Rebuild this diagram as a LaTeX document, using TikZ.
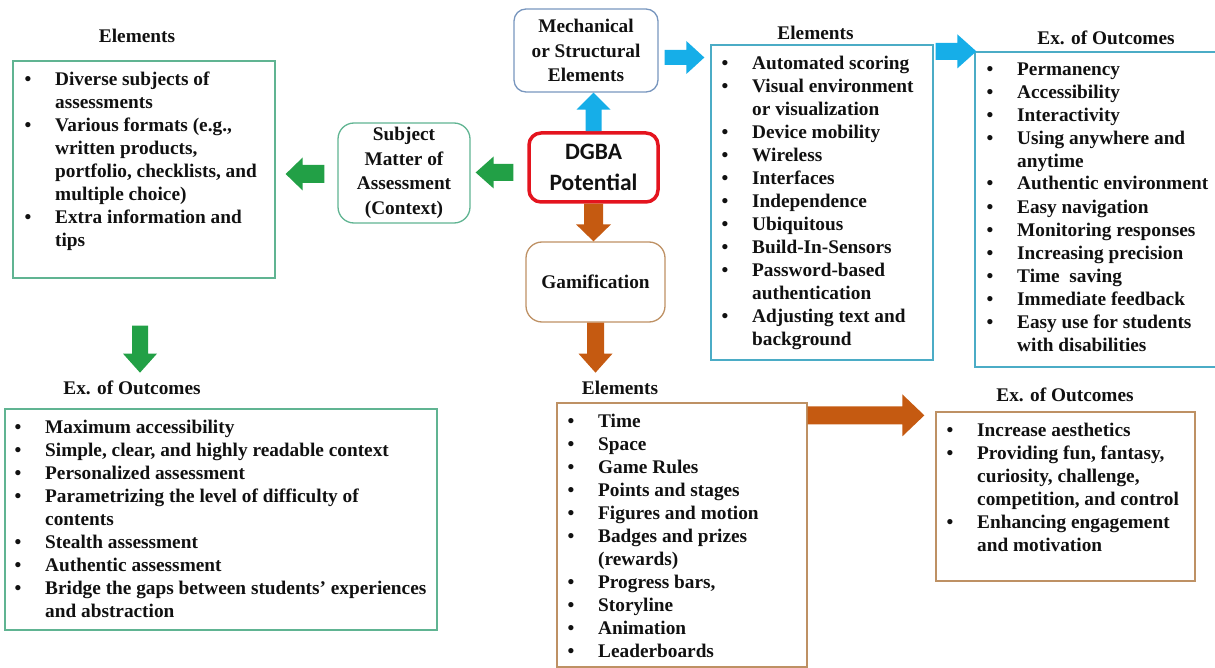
\documentclass[tikz,border=0pt]{standalone}
\usepackage{fontspec}
\setmainfont{Liberation Serif}
\newfontfamily\calib{Carlito}
\usetikzlibrary{calc}
\definecolor{agreen}{RGB}{34,160,70}
\definecolor{ablue}{RGB}{22,174,232}
\definecolor{abrown}{RGB}{197,90,17}
\definecolor{gline}{RGB}{96,180,146}
\definecolor{bline}{RGB}{75,172,198}
\definecolor{mline}{RGB}{120,150,190}
\definecolor{tline}{RGB}{190,145,100}
\definecolor{rline}{RGB}{228,20,30}
\definecolor{txt}{RGB}{17,17,17}
\newcommand\bu{\makebox[30.5pt][l]{•}}
\newcommand\ind{\makebox[30.5pt]{}}
\newcommand\barrow[6]{%
 \path ($(#2)!#5!(#1)$) coordinate (bah);
 \fill[#6] ($(#1)!#3!90:(#2)$) -- ($(bah)!#3!90:(#2)$) -- ($(bah)!#4!90:(#2)$) -- (#2) -- ($(bah)!#4!-90:(#2)$) -- ($(bah)!#3!-90:(#2)$) -- ($(#1)!#3!-90:(#2)$) -- cycle;}
\tikzset{
 box/.style={draw, line width=1.3pt, inner sep=0pt},
 rbox/.style={box, rounded corners=#1, align=center, text=txt,
   font=\fontsize{19.3}{24.5}\selectfont\bfseries},
 listtxt/.style={inner sep=0pt, align=left, anchor=base west, text=txt,
   font=\fontsize{19.3}{23}\selectfont\bfseries},
 title/.style={inner sep=0pt, anchor=base, text=txt,
   font=\fontsize{19.3}{23}\selectfont\bfseries},
}
\begin{document}
\begin{tikzpicture}[x=1pt,y=-1pt]
\useasboundingbox (0,0) rectangle (1215,668);
\clip (0,0) rectangle (1215,668);
% boxes
\node[box, draw=gline, minimum width=262pt, minimum height=217pt] (lelem) at (144,169.5) {};
\node[box, draw=gline, minimum width=432pt, minimum height=221pt] (loutc) at (221,519.5) {};
\node[box, draw=bline, minimum width=222pt, minimum height=315pt] (melem) at (822,202.5) {};
\node[box, draw=bline, minimum width=247pt, minimum height=315pt] (moutc) at (1098.5,209.5) {};
\node[box, draw=tline, minimum width=250pt, minimum height=264pt] (gelem) at (682,535) {};
\node[box, draw=tline, minimum width=259pt, minimum height=169pt] (goutc) at (1065.5,496.5) {};
% rounded boxes
\node[rbox=12pt, draw=mline, minimum width=144pt, minimum height=83pt] (mech) at (586,50.5) {Mechanical\\or Structural\\Elements};
\node[rbox=16pt, draw=gline, minimum width=132pt, minimum height=100pt] (subj) at (404,173) {Subject\\Matter of\\Assessment\\(Context)};
\node[rbox=16pt, draw=tline, minimum width=139pt, minimum height=80pt] (gam) at (595.5,282) {Gamification};
\node[rbox=12pt, draw=rline, line width=3.5pt, minimum width=129pt, minimum height=69pt,
  font=\calib\fontsize{23.5}{31}\selectfont\bfseries] (dgba) at (593.5,167.5) {DGBA\\Potential};
% titles
\node[title] (t1) at (137,43) {Elements};
\node[title] (t2) at (815.5,40) {Elements};
\node[title] (t3) at (1106,44.5) {Ex. of Outcomes};
\node[title] (t4) at (132,394) {Ex. of Outcomes};
\node[title] (t5) at (620,394) {Elements};
\node[title] (t6) at (1065,401) {Ex. of Outcomes};
% lists (anchored at the baseline of their last line)
\node[listtxt] (l1) at (24.5,247) {\bu Diverse subjects of\\ \ind assessments\\ \bu Various formats (e.g.,\\ \ind written products,\\ \ind portfolio, checklists, and\\ \ind multiple choice)\\ \bu Extra information and\\ \ind tips};
\node[listtxt] (l2) at (721.5,345) {\bu Automated scoring\\ \bu Visual environment\\ \ind or visualization\\ \bu Device mobility\\ \bu Wireless\\ \bu Interfaces\\ \bu Independence\\ \bu Ubiquitous\\ \bu Build-In-Sensors\\ \bu Password-based\\ \ind authentication\\ \bu Adjusting text and\\ \ind background};
\node[listtxt] (l3) at (986.5,351) {\bu Permanency\\ \bu Accessibility\\ \bu Interactivity\\ \bu Using anywhere and\\ \ind anytime\\ \bu Authentic environment\\ \bu Easy navigation\\ \bu Monitoring responses\\ \bu Increasing precision\\ \bu Time\ \ saving\\ \bu Immediate feedback\\ \bu Easy use for students\\ \ind with disabilities};
\node[listtxt] (l4) at (14.5,617) {\bu Maximum accessibility\\ \bu Simple, clear, and highly readable context\\ \bu Personalized assessment\\ \bu Parametrizing the level of difficulty of\\ \ind contents\\ \bu Stealth assessment\\ \bu Authentic assessment\\ \bu Bridge the gaps between students’ experiences\\ \ind and abstraction};
\node[listtxt] (l5) at (567.5,657) {\bu Time\\ \bu Space\\ \bu Game Rules\\ \bu Points and stages\\ \bu Figures and motion\\ \bu Badges and prizes\\ \ind (rewards)\\ \bu Progress bars,\\ \bu Storyline\\ \bu Animation\\ \bu Leaderboards};
\node[listtxt] (l6) at (946.5,551) {\bu Increase aesthetics\\ \bu Providing fun, fantasy,\\ \ind curiosity, challenge,\\ \ind competition, and control\\ \bu Enhancing engagement\\ \ind and motivation};
% arrow end points
\coordinate (b1s) at (dgba.north);
\coordinate (b1e) at (dgba.north |- mech.south);
\coordinate (b2s) at ($(mech.east)+(6,7)$);
\coordinate (b2e) at ($(melem.west |- b2s)+(-6,0)$);
\coordinate (b3s) at ($(melem.north east)+(2,7)$);
\coordinate (b3e) at ($(moutc.west |- b3s)+(2,0)$);
\coordinate (g1s) at ($(dgba.west)+(-14,5)$);
\coordinate (g1e) at ($(subj.east |- g1s)+(5,0)$);
\coordinate (g2s) at ($(subj.west)+(-13,1)$);
\coordinate (g2e) at ($(lelem.east |- g2s)+(10,0)$);
\coordinate (g3s) at ($(lelem.south)+(-4,47)$);
\coordinate (g3e) at ($(g3s)+(0,47)$);
\coordinate (r1s) at (dgba.south);
\coordinate (r1e) at (dgba.south |- gam.north);
\coordinate (r2s) at (gam.south);
\coordinate (r2e) at ($(gam.south)+(0,50)$);
\coordinate (r3s) at ($(gelem.north east)+(0,13)$);
\coordinate (r3e) at ($(goutc.west |- r3s)+(-11,0)$);
% arrows
\barrow{b1s}{b1e}{8pt}{17pt}{17pt}{ablue}
\barrow{b2s}{b2e}{7.5pt}{16.5pt}{18pt}{ablue}
\barrow{b3s}{b3e}{8.5pt}{17pt}{19pt}{ablue}
\barrow{g1s}{g1e}{8.5pt}{16pt}{18pt}{agreen}
\barrow{g2s}{g2e}{9pt}{16.5pt}{17pt}{agreen}
\barrow{g3s}{g3e}{8pt}{17pt}{19pt}{agreen}
\barrow{r1s}{r1e}{9.5pt}{17.5pt}{17pt}{abrown}
\barrow{r2s}{r2e}{8.5pt}{17pt}{19pt}{abrown}
\barrow{r3s}{r3e}{9pt}{21pt}{22pt}{abrown}
\end{tikzpicture}
\end{document}
